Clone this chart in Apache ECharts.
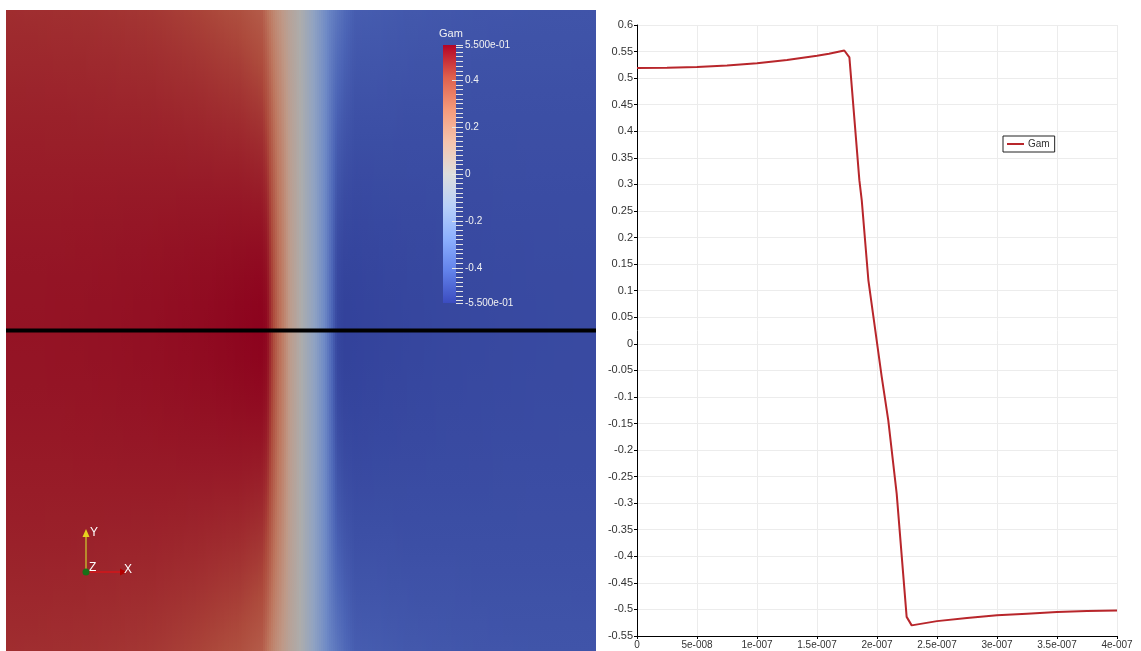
<!DOCTYPE html>
<html><head><meta charset="utf-8">
<script src="https://cdn.jsdelivr.net/npm/echarts@6/dist/echarts.min.js"></script>
<style>html,body{margin:0;padding:0;background:#fff}#c{width:1141px;height:651px}</style>
</head><body><div id="c"></div>
<script>
// ---------- Gam along the probe line (Plot Over Line) ----------
const lineX = [0, 2.5e-8, 5e-8, 7.5e-8, 1e-7, 1.25e-7, 1.5e-7, 1.6e-7, 1.7275e-7, 1.77e-7, 1.853e-7, 1.873e-7, 1.928e-7, 1.97e-7, 2.039e-7, 2.094e-7, 2.164e-7, 2.247e-7, 2.289e-7, 2.5e-7, 2.75e-7, 3e-7, 3.25e-7, 3.5e-7, 3.75e-7, 4e-7];
const lineGam = [0.519, 0.5195, 0.521, 0.524, 0.528, 0.534, 0.542, 0.546, 0.552, 0.539, 0.308, 0.270, 0.120, 0.051, -0.062, -0.144, -0.282, -0.514, -0.530, -0.522, -0.516, -0.511, -0.508, -0.505, -0.503, -0.502];

// ---------- Gam along the top/bottom boundary of the rendered field ----------
const edgeX = [0, 5e-8, 1e-7, 1.3e-7, 1.586e-7, 1.736e-7, 1.824e-7, 1.925e-7, 1.993e-7, 2.061e-7, 2.129e-7, 2.197e-7, 2.298e-7, 2.366e-7, 2.7e-7, 3.2e-7, 4e-7];
const edgeGam = [0.47, 0.465, 0.45, 0.43, 0.40, 0.36, 0.20, 0.07, 0.0, -0.10, -0.20, -0.30, -0.40, -0.44, -0.455, -0.465, -0.47];

// probe line drawn across the field
const probeX = [0, 4e-7];
const probeY = [0, 0];

// colour range and colour-bar labels
const gamMin = -0.55, gamMax = 0.55;
const cbLabelValues = [0.55, 0.4, 0.2, 0, -0.2, -0.4, -0.55];
const cbLabelTexts = ['5.500e-01', '0.4', '0.2', '0', '-0.2', '-0.4', '-5.500e-01'];
const cbMajorTicks = [0.4, 0.2, 0, -0.2, -0.4];

// x axis tick labels of the line chart
const xTickStep = 5e-8;
const xTickLabels = ['0', '5e-008', '1e-007', '1.5e-007', '2e-007', '2.5e-007', '3e-007', '3.5e-007', '4e-007'];

// ---------- colour map (Cool to Warm) ----------
const coolWarmStops = [[59,76,192],[98,130,234],[141,176,254],[184,208,249],[221,221,221],[245,196,173],[244,154,123],[222,96,77],[180,4,38]];
const litFactor = 0.78;
function cwRGB(v, k) {
  let t = (v - gamMin) / (gamMax - gamMin);
  t = Math.max(0, Math.min(1, t));
  const p = t * (coolWarmStops.length - 1);
  const i = Math.min(Math.floor(p), coolWarmStops.length - 2);
  const f = p - i;
  const a = coolWarmStops[i], b = coolWarmStops[i + 1];
  return a.map((x, j) => Math.round((x + (b[j] - x) * f) * k));
}
function cw(v, k) {
  const c = cwRGB(v, k);
  return 'rgb(' + c[0] + ',' + c[1] + ',' + c[2] + ')';
}
// piecewise-linear lookup inside a profile (used only for rasterising the field)
function profileAt(xs, vs, x) {
  if (x <= xs[0]) return vs[0];
  for (let i = 0; i < xs.length - 1; i++) {
    if (x <= xs[i + 1]) {
      const f = (x - xs[i]) / (xs[i + 1] - xs[i]);
      return vs[i] + (vs[i + 1] - vs[i]) * f;
    }
  }
  return vs[vs.length - 1];
}

const fieldData = [];
for (let i = 0; i < lineX.length - 1; i++) fieldData.push([lineX[i], lineX[i + 1], lineGam[i], lineGam[i + 1]]);
const lineData = lineX.map((x, i) => [x, lineGam[i]]);
const probeData = probeX.map((x, i) => [x, probeY[i]]);
const colorBarData = [[0, 1, gamMin, gamMax]];

const cbMinorTicks = [gamMin, gamMax];
for (let k = -27; k <= 27; k++) cbMinorTicks.push(Math.round(k * 2) / 100);

const FONT = 'Liberation Sans';
const COL = 2; // raster column width in px

function renderField(params, api) {
  const cs = params.coordSys;
  const xa = api.value(0), xb = api.value(1), va = api.value(2), vb = api.value(3);
  const px0 = Math.round(api.coord([xa, 0])[0]);
  const px1 = Math.round(api.coord([xb, 0])[0]);
  const yLine = api.coord([0, 0])[1];
  const top = cs.y, h = cs.height;
  const offLine = (yLine - top) / h;
  const children = [];
  for (let p = px0; p < px1; p += COL) {
    const w = Math.min(COL, px1 - p);
    const f = ((p + w / 2) - px0) / Math.max(1, px1 - px0);
    const xVal = xa + (xb - xa) * f;
    const vc = va + (vb - va) * f;
    const ve = profileAt(edgeX, edgeGam, xVal);
    const stops = [];
    const n = 12;
    for (let s = 0; s <= n; s++) {
      const d = 1 - s / n;
      const wt = Math.pow(d, 1.6);
      stops.push({ offset: offLine * (s / n), color: cw(vc * (1 - wt) + ve * wt, litFactor) });
    }
    for (let s = 1; s <= n; s++) {
      const d = s / n;
      const wt = Math.pow(d, 1.6);
      stops.push({ offset: offLine + (1 - offLine) * (s / n), color: cw(vc * (1 - wt) + ve * wt, litFactor) });
    }
    children.push({
      type: 'rect',
      shape: { x: p, y: top, width: w, height: h },
      style: { fill: new echarts.graphic.LinearGradient(0, 0, 0, 1, stops) }
    });
  }
  return { type: 'group', children: children };
}

function renderColorBar(params, api) {
  const p0 = api.coord([api.value(0), api.value(3)]);
  const p1 = api.coord([api.value(1), api.value(2)]);
  const n = coolWarmStops.length - 1;
  const stops = coolWarmStops.map((c, i) => ({ offset: 1 - i / n, color: 'rgb(' + c.join(',') + ')' }));
  return {
    type: 'rect',
    shape: { x: p0[0], y: p0[1], width: p1[0] - p0[0], height: p1[1] - p0[1] },
    style: { fill: new echarts.graphic.LinearGradient(0, 0, 0, 1, stops) }
  };
}

const chart = echarts.init(document.getElementById('c'), null, { renderer: 'canvas' });
chart.setOption({
  animation: false,
  backgroundColor: '#ffffff',
  grid: [
    { left: 6, top: 10, width: 590, height: 646 },
    { left: 443, top: 45, width: 13, height: 258 },
    { left: 456, top: 45, width: 20, height: 258 },
    { left: 637, top: 25, width: 480, height: 611 },
    { left: 452, top: 45, width: 20, height: 258 }
  ],
  xAxis: [
    { gridIndex: 0, type: 'value', min: 0, max: 4e-7, show: false },
    { gridIndex: 1, type: 'value', min: 0, max: 1, show: false },
    { gridIndex: 2, type: 'value', min: 0, max: 1, show: false },
    {
      gridIndex: 3, type: 'value', min: 0, max: 4e-7, interval: xTickStep,
      axisLine: { onZero: false, lineStyle: { color: '#000', width: 1 } },
      axisTick: { length: 3, lineStyle: { color: '#000' } },
      splitLine: { show: true, lineStyle: { color: '#ececec', width: 1 } },
      axisLabel: {
        margin: 4, fontSize: 10, fontFamily: FONT, color: '#333',
        formatter: v => xTickLabels[Math.round(v / xTickStep)]
      }
    },
    { gridIndex: 4, type: 'value', min: 0, max: 1, show: false }
  ],
  yAxis: [
    { gridIndex: 0, type: 'value', min: -1, max: 1, show: false },
    { gridIndex: 1, type: 'value', min: gamMin, max: gamMax, show: false },
    {
      gridIndex: 2, type: 'value', min: gamMin, max: gamMax, position: 'left', z: 10,
      axisLine: { show: false }, splitLine: { show: false },
      axisTick: { show: true, inside: true, length: 7, customValues: cbMinorTicks, lineStyle: { color: '#e4e4e4', width: 1 } },
      axisLabel: { show: false }
    },
    {
      gridIndex: 3, type: 'value', min: -0.55, max: 0.6, interval: 0.05,
      axisLine: { show: true, onZero: false, lineStyle: { color: '#000', width: 1 } },
      axisTick: { show: true, length: 3, lineStyle: { color: '#000' } },
      splitLine: { show: true, lineStyle: { color: '#ececec', width: 1 } },
      axisLabel: {
        margin: 4, fontSize: 11, fontFamily: FONT, color: '#333',
        formatter: v => String(parseFloat(v.toFixed(2)))
      }
    },
    {
      gridIndex: 4, type: 'value', min: gamMin, max: gamMax, position: 'left', z: 10,
      axisLine: { show: false }, splitLine: { show: false },
      axisTick: { show: true, inside: true, length: 11, customValues: cbMajorTicks, lineStyle: { color: '#e4e4e4', width: 1 } },
      axisLabel: {
        show: true, inside: true, margin: 13, customValues: cbLabelValues, fontSize: 10, fontFamily: FONT, color: '#f2f2f2',
        formatter: v => { const i = cbLabelValues.findIndex(c => Math.abs(c - v) < 1e-9); return i >= 0 ? cbLabelTexts[i] : ''; }
      }
    }
  ],
  legend: {
    data: ['Gam'], left: 1003, top: 136, icon: 'rect', itemWidth: 17, itemHeight: 2,
    padding: [3, 5, 3, 4], borderColor: '#222', borderWidth: 1, itemGap: 4,
    textStyle: { fontSize: 10, fontFamily: FONT, color: '#333', padding: [0, 0, 0, -1] }
  },
  graphic: [
    { type: 'text', left: 439, top: 28, z: 100, style: { text: 'Gam', fill: '#f2f2f2', font: '11px "Liberation Sans"' } },
    { type: 'line', z: 100, shape: { x1: 86, y1: 572, x2: 86, y2: 536 }, style: { stroke: '#b88a2c', lineWidth: 2 } },
    { type: 'polygon', z: 100, shape: { points: [[82.5, 537], [89.5, 537], [86, 529]] }, style: { fill: '#e6d21e' } },
    { type: 'line', z: 100, shape: { x1: 86, y1: 572, x2: 121, y2: 572 }, style: { stroke: '#d4161a', lineWidth: 1.5 } },
    { type: 'polygon', z: 100, shape: { points: [[120, 568.5], [120, 575.5], [127, 572]] }, style: { fill: '#b30000' } },
    { type: 'circle', z: 101, shape: { cx: 86, cy: 572, r: 3.5 }, style: { fill: '#187018' } },
    { type: 'text', z: 100, left: 90, top: 527, style: { text: 'Y', fill: '#ffffff', font: '12px "Liberation Sans"' } },
    { type: 'text', z: 100, left: 89, top: 562, style: { text: 'Z', fill: '#ffffff', font: '12px "Liberation Sans"' } },
    { type: 'text', z: 100, left: 124, top: 564, style: { text: 'X', fill: '#ffffff', font: '12px "Liberation Sans"' } }
  ],
  series: [
    { name: 'field', type: 'custom', xAxisIndex: 0, yAxisIndex: 0, silent: true, clip: true, renderItem: renderField, data: fieldData, encode: { x: [0, 1], y: 2 } },
    { name: 'probe', type: 'line', xAxisIndex: 0, yAxisIndex: 0, silent: true, showSymbol: false, data: probeData, lineStyle: { color: '#000', width: 4 }, z: 5 },
    { name: 'colorbar', type: 'custom', xAxisIndex: 1, yAxisIndex: 1, silent: true, z: 8, renderItem: renderColorBar, data: colorBarData, encode: { x: [0, 1], y: [2, 3] } },
    { name: 'Gam', type: 'line', xAxisIndex: 3, yAxisIndex: 3, showSymbol: false, data: lineData, color: '#b8262b', lineStyle: { color: '#b8262b', width: 2 } }
  ]
});
</script>
</body></html>
